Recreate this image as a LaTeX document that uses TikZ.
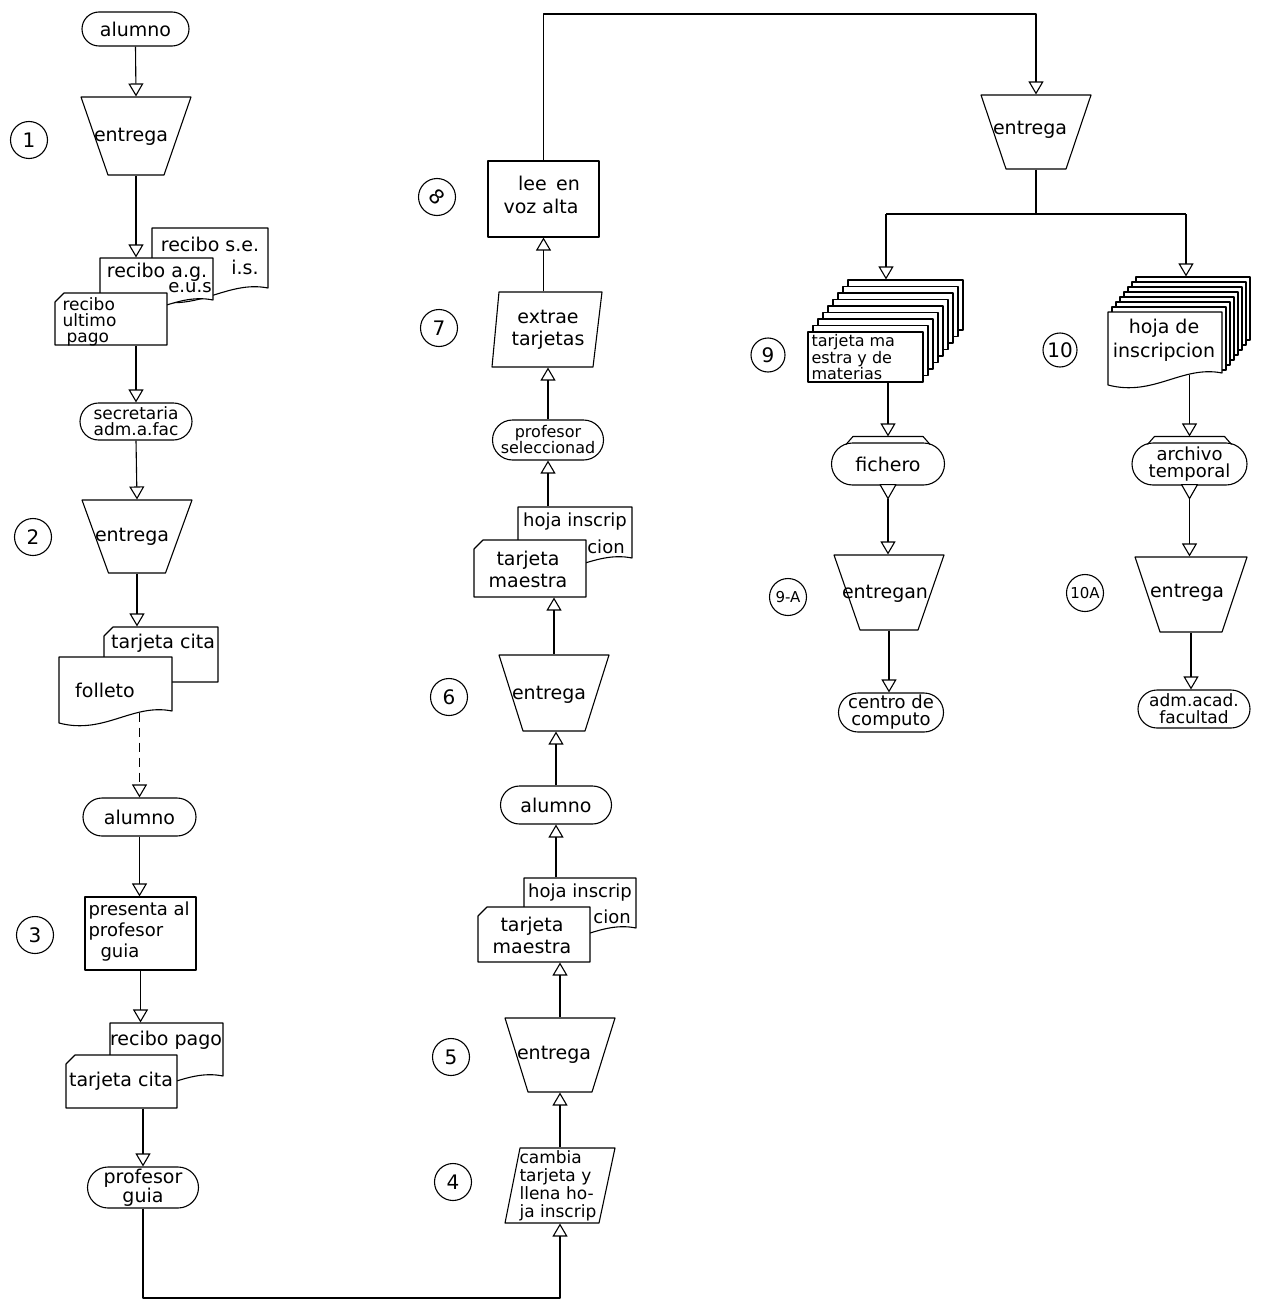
\documentclass[tikz,border=0pt]{standalone}
\usepackage{fontspec}
\setmainfont{DejaVu Sans}
\usetikzlibrary{arrows.meta,shapes.misc,fit,calc}

\newcommand\myfs[2]{\fontsize{#1}{#2}\selectfont}
% terminal: name, cx, cy, w, h
\newcommand\myterm[5]{\node[draw, fill=white, rounded rectangle, minimum width=#4pt, minimum height=#5pt, inner sep=0pt] (#1) at (#2,#3) {};}
% trapezoid: name, cx, ytop, ybot, halftop, halfbot
\newcommand\mytrap[6]{%
  \draw[shp] ({#2-#5},#3) -- ({#2+#5},#3) -- ({#2+#6},#4) -- ({#2-#6},#4) -- cycle;
  \coordinate (#1nw) at ({#2-#5},#3); \coordinate (#1se) at ({#2+#5},#4);
  \node[fit=(#1nw)(#1se), inner sep=0pt] (#1) {};}
% document with wavy bottom: name, x1, y1, x2, y2
\newcommand\mydoc[5]{%
  \draw[shp] (#2,#3) -- (#4,#3) -- (#4,{#5-12}) .. controls ({#4-0.35*(#4-#2)},{#5-20}) and ({#2+0.4*(#4-#2)},{#5+12}) .. (#2,#5) -- cycle;
  \coordinate (#1nw) at (#2,#3); \coordinate (#1se) at (#4,#5);
  \node[fit=(#1nw)(#1se), inner sep=0pt] (#1) {};}
% card with cut corner: name, x1, y1, x2, y2
\newcommand\mycard[5]{%
  \draw[shp] ({#2+9},#3) -- (#4,#3) -- (#4,#5) -- (#2,#5) -- (#2,{#3+9}) -- cycle;
  \coordinate (#1nw) at (#2,#3); \coordinate (#1se) at (#4,#5);
  \node[fit=(#1nw)(#1se), inner sep=0pt] (#1) {};}
% rectangle: name, x1, y1, x2, y2
\newcommand\myrect[5]{%
  \draw[shp] (#2,#3) rectangle (#4,#5);
  \coordinate (#1nw) at (#2,#3); \coordinate (#1se) at (#4,#5);
  \node[fit=(#1nw)(#1se), inner sep=0pt] (#1) {};}
% parallelogram: name, xtl, xtr, xbr, xbl, ytop, ybot
\newcommand\mypara[7]{%
  \draw[shp] (#2,#6) -- (#3,#6) -- (#4,#7) -- (#5,#7) -- cycle;
  \coordinate (#1nw) at (#5,#6); \coordinate (#1se) at (#3,#7);
  \node[fit=(#1nw)(#1se), inner sep=0pt] (#1) {};}

\begin{document}
\begin{tikzpicture}[x=1pt,y=-1pt, line width=1.1pt, line join=round,
  shp/.style={draw, fill=white},
  arr/.style={-{Triangle[open,length=13pt,width=15pt]}},
  txt/.style={inner sep=0pt, align=center, font=\myfs{19}{18}},
  circ/.style={draw, circle, minimum size=37pt, inner sep=0pt, font=\myfs{20}{20}},
  dsh/.style={dash pattern=on 9pt off 6pt}]
\fill[white] (0,0) rectangle (1271,1308);
\useasboundingbox (0,0) rectangle (1271,1308);

% ================= column 1 =================
\myterm{a1}{135.5}{29}{107}{34}
\node[txt] (a1t) at (a1) {alumno};
\node[circ] (n1) at (29,140) {1};
\mytrap{e1}{136}{97}{175}{55}{28}
\node[txt] (e1t) at (131,137) {entrega};
\mydoc{b1}{152}{228}{268}{300}
\mydoc{m1}{100}{258}{213}{312}
\mycard{f1}{55}{293}{167}{345}
\node[txt] (b1t) at (210,244) {recibo s.e.};
\node[txt] (b1u) at (245,267) {i.s.};
\node[txt] (m1t) at (157,272) {recibo a.g.};
\node[txt, font=\myfs{18}{18}] (m1u) at (190,288) {e.u.s};
\node[txt, align=left, font=\myfs{17}{16}, anchor=north west] (f1t) at (62,297) {recibo\\ultimo\\\hspace*{4pt}pago};
\draw[arr] (a1.south) -- (e1.north);
\draw[arr] (e1.south) -- (e1.south |- m1.north);

\myterm{s1}{136}{421.5}{112}{37}
\node[txt, font=\myfs{17}{16}] (s1t) at (s1) {secretaria\\adm.a.fac};
\draw[arr] (e1.south |- f1.south) -- (s1.north);

\mytrap{e2}{137}{500}{573}{55}{28.5}
\node[txt] (e2t) at (132,537) {entrega};
\node[circ] (n2) at (33,537) {2};
\draw[arr] (s1.south) -- (e2.north);
\mycard{bc2}{104}{627}{218}{682}
\mydoc{fo}{59}{657}{172}{723}
\node[txt] (bc2t) at (163,643) {tarjeta cita};
\node[txt] (fot) at (105,690) {folleto};
\draw[arr] (e2.south) -- (e2.south |- bc2.north);

\myterm{a2}{139.5}{817}{113}{38}
\node[txt] (a2t) at (a2) {alumno};
\draw[arr, dsh] ($(a2.north |- fo.south)+(0,-11)$) -- (a2.north);

\node[circ] (n3) at (35,935) {3};
\myrect{p3}{85}{897}{196}{970}
\node[txt, align=left, font=\myfs{18}{21}, anchor=north west] (p3t) at (88,901) {presenta al\\profesor\\\hspace*{12pt}guia};
\draw[arr] (a2.south) -- (a2.south |- p3.north);

\mydoc{rp}{110}{1023}{223}{1088}
\mycard{tc}{66}{1055}{177}{1108}
\node[txt] (rpt) at (166,1040) {recibo pago};
\node[txt] (tct) at (121,1081) {tarjeta cita};
\draw[arr] (p3.south) -- (p3.south |- rp.north);

\myterm{pg}{143}{1187.5}{111}{41}
\node[txt, font=\myfs{19}{17}] (pgt) at (pg) {profesor\\guia};
\draw[arr] (pg.north |- tc.south) -- (pg.north);

% ================= column 2 =================
\mypara{ca}{520}{615}{599}{505}{1148}{1223}
\node[txt, align=left, font=\myfs{17}{18}, anchor=north west] (cat) at (519,1150) {cambia\\tarjeta y\\llena ho-\\ja inscrip};
\node[circ] (n4) at (453,1182) {4};
\coordinate (bot) at (300,1298);
\draw[arr] (pg.south) -- (pg.south |- bot) -| (ca.south);

\mytrap{e5}{560}{1018}{1092}{55}{32}
\node[txt] (e5t) at (554,1055) {entrega};
\node[circ] (n5) at (451,1057) {5};
\draw[arr] (ca.north) -- (e5.south);

\mydoc{hi5}{524}{878}{636}{940}
\mycard{tm5}{478}{907}{590}{962}
\node[txt, font=\myfs{18}{18}] (hi5t) at (580,893) {hoja inscrip};
\node[txt, font=\myfs{18}{18}] (hi5u) at (612,917) {cion};
\node[txt, font=\myfs{19}{22}] (tm5t) at (532,935) {tarjeta\\maestra};
\draw[arr] (e5.north) -- (e5.north |- tm5.south);

\myterm{a3}{556}{805}{111}{38}
\node[txt] (a3t) at (a3) {alumno};
\draw[arr] (a3.south |- hi5.north) -- (a3.south);

\mytrap{e6}{554}{655}{731}{55}{31}
\node[txt] (e6t) at (549,695) {entrega};
\node[circ] (n6) at (449,697) {6};
\draw[arr] (a3.north) -- (a3.north |- e6.south);

\mydoc{hi6}{518}{507}{632}{570}
\mycard{tm6}{474}{540}{586}{597}
\node[txt, font=\myfs{18}{18}] (hi6t) at (575,522) {hoja inscrip};
\node[txt, font=\myfs{18}{18}] (hi6u) at (606,547) {cion};
\node[txt, font=\myfs{19}{22}] (tm6t) at (528,569) {tarjeta\\maestra};
\draw[arr] (e6.north) -- (e6.north |- tm6.south);

\myterm{ps}{548}{440}{111}{40}
\node[txt, font=\myfs{16}{16}] (pst) at (ps) {profesor\\seleccionad};
\draw[arr] (ps.south |- hi6.north) -- (ps.south);

\mypara{ex}{499}{602}{593}{492}{292}{367}
\node[txt, font=\myfs{19}{22}] (ext) at (548,330) {extrae\\tarjetas};
\node[circ] (n7) at (439,328) {7};
\draw[arr] (ps.north) -- (ps.north |- ex.south);

\myrect{lee}{488}{161}{599}{237}
\node[txt] (leet) at (549,183) {lee\enspace en};
\node[txt] (leeu) at (541,206) {voz alta};
\node[circ] (n8) at (437,197) {};
\node[txt, rotate=-45, font=\myfs{20}{20}] (n8t) at (n8) {8};
\draw[arr] (lee.south |- ex.north) -- (lee.south);

% ================= column 3 =================
\mytrap{e8}{1036}{95}{169}{55}{30}
\node[txt] (e8t) at (1030,130) {entrega};
\coordinate (tp) at (0,14);
\draw[arr] (lee.north) -- (lee.north |- tp) -| (e8.north);

\coordinate (bl9) at (886,214);
\coordinate (br10) at (1186,214);
\draw (e8.south) -- (e8.south |- bl9);
\draw (bl9) -- (br10);

% stack 9
\foreach \k in {8,7,...,1} \draw[shp] ({808+5*\k},{332-6.5*\k}) rectangle ({923+5*\k},{382-6.5*\k});
\myrect{st9f}{808}{332}{923}{382}
\coordinate (st9nw) at (808,280); \coordinate (st9se) at (963,382);
\node[fit=(st9nw)(st9se), inner sep=0pt] (st9) {};
\node[txt, align=left, font=\myfs{16}{14.5}, anchor=north west] (st9t) at (811,334) {tarjeta ma\\estra y de\\materias};
\node[circ, minimum size=34pt] (n9) at (768,355) {9};
\draw[arr] (bl9) -- (bl9 |- st9.north);

% stack 10
\foreach \k in {7,6,...,1} \draw[shp] ({1108+4*\k},{312-5*\k}) rectangle ({1222+4*\k},{375-5*\k});
\mydoc{st10f}{1108}{312}{1222}{385}
\coordinate (st10nw) at (1108,277); \coordinate (st10se) at (1250,385);
\node[fit=(st10nw)(st10se), inner sep=0pt] (st10) {};
\node[txt, font=\myfs{19}{24}] (st10t) at (1164,340) {hoja de\\inscripcion};
\node[circ, minimum size=34pt] (n10) at (1060,350) {10};
\draw[arr] (br10) -- (br10 |- st10.north);

% fichero
\myterm{fi}{888}{464}{113}{42}
\node[txt] (fit) at (fi) {fichero};
\draw ($(fi.north)+(-42,2)$) -- ($(fi.north)+(-35,-6)$) -- ($(fi.north)+(35,-6)$) -- ($(fi.north)+(42,2)$);
\draw[arr] (fi.north |- st9.south) -- ($(fi.north)+(0,-6)$);
\draw[fill=white] ($(fi.south)+(-8,-1)$) -- ($(fi.south)+(8,-1)$) -- ($(fi.south)+(0,13)$) -- cycle;
\mytrap{e9a}{889}{555}{630}{55}{29}
\node[txt] (e9at) at (885,594) {entregan};
\node[circ, font=\myfs{15}{15}] (n9a) at (788,597) {9-A};
\draw[arr] ($(fi.south)+(0,13)$) -- (fi.south |- e9a.north);
\myterm{cc}{891}{712.5}{105}{39}
\node[txt, font=\myfs{18}{17}] (cct) at (cc) {centro de\\computo};
\draw[arr] (e9a.south) -- (e9a.south |- cc.north);

% archivo temporal
\myterm{ar}{1189.5}{464}{115}{42}
\node[txt, font=\myfs{18}{17}] (art) at (ar) {archivo\\temporal};
\draw ($(ar.north)+(-42,2)$) -- ($(ar.north)+(-35,-6)$) -- ($(ar.north)+(35,-6)$) -- ($(ar.north)+(42,2)$);
\draw[arr] ($(ar.north |- st10.south)+(0,-11)$) -- ($(ar.north)+(0,-6)$);
\draw[fill=white] ($(ar.south)+(-8,-1)$) -- ($(ar.south)+(8,-1)$) -- ($(ar.south)+(0,13)$) -- cycle;
\mytrap{e10a}{1191}{557}{632}{56}{31}
\node[txt] (e10at) at (1187,593) {entrega};
\node[circ, font=\myfs{15}{15}] (n10a) at (1085,593) {10A};
\draw[arr] ($(ar.south)+(0,13)$) -- (ar.south |- e10a.north);
\myterm{af}{1194}{709}{112}{38}
\node[txt, font=\myfs{17}{17}] (aft) at (af) {adm.acad.\\facultad};
\draw[arr] (e10a.south) -- (e10a.south |- af.north);
\end{tikzpicture}
\end{document}
